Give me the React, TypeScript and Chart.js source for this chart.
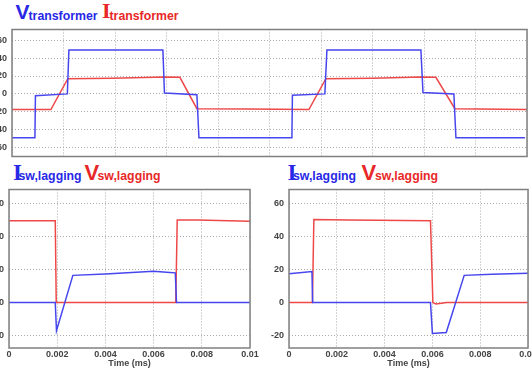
import React, { useEffect, useRef } from "react";
import { Chart, registerables } from "chart.js";

Chart.register(...registerables);

// ---------- data (time in ms) ----------
// Top chart: transformer voltage (blue) and current (red)
const topVTime = [0, 0.00089, 0.00091, 0.00215, 0.00221, 0.00586, 0.00592, 0.00718, 0.00726, 0.01087, 0.01089, 0.01215, 0.01223, 0.01588, 0.01596, 0.01716, 0.01724, 0.01992];
const topVValue = [-49, -49, -2, 0, 49, 49, 1, -1, -49, -49, -1.5, 0, 49, 49, 1.5, 0, -49, -49];
const topITime = [0, 0.00151, 0.00217, 0.0039, 0.00594, 0.00652, 0.00718, 0.0092, 0.01153, 0.01219, 0.014, 0.01588, 0.01646, 0.0172, 0.02];
const topIValue = [-17.5, -17.5, 17, 17.5, 19, 18.5, -16.5, -17, -17.5, 17, 17.5, 19, 18.5, -16.5, -17.5];
const topYTicks = [-60, -40, -20, 0, 20, 40, 60];
const topXTicks = [0, 0.002, 0.004, 0.006, 0.008, 0.01, 0.012, 0.014, 0.016, 0.018, 0.02];

// Bottom-left chart: switch current (blue) and switch voltage (red)
const leftITime = [0, 0.00192, 0.00197, 0.00265, 0.004, 0.006, 0.00667, 0.0069, 0.00695, 0.01];
const leftIValue = [0, 0, -17, 16.5, 17.3, 19, 18.3, 18, 0, 0];
const leftVTime = [0, 0.00192, 0.00196, 0.00692, 0.00698, 0.0078, 0.01];
const leftVValue = [49.5, 49.5, 0, 0, 50, 50, 49.3];

// Bottom-right chart: switch current (blue) and switch voltage (red)
const rightITime = [0, 0.00096, 0.00099, 0.00592, 0.006, 0.00658, 0.00733, 0.0085, 0.01];
const rightIValue = [17.5, 18.8, 0, 0, -18.7, -18.1, 16.5, 17.2, 17.8];
const rightVTime = [0, 0.00098, 0.00104, 0.0025, 0.00592, 0.00602, 0.00615, 0.0066, 0.01];
const rightVValue = [0, 0, 50.3, 50, 49.6, 0, -0.8, 0, 0];

const bottomYTicks = [-20, 0, 20, 40, 60];
const bottomXTicks = [0, 0.002, 0.004, 0.006, 0.008, 0.01];
const bottomXLabels = ["0", "0.002", "0.004", "0.006", "0.008", "0.01"];
const xTitle = "Time (ms)";

// ---------- styles ----------
const LINE_BLUE = "#4646ee";
const LINE_RED = "#ee4848";
const TEXT_BLUE = "#2828e6";
const TEXT_RED = "#e82828";
const GRID = "#aaaaaa";
const TICK_COLOR = "#444";
const SANS = "'Liberation Sans', Arial, sans-serif";
const SERIF = "'Liberation Serif', serif";

const pts = (xs: number[], ys: number[]) => xs.map((x, i) => ({ x, y: ys[i] }));

const boxPlugin = {
  id: "scopeBox",
  afterDraw(chart: any) {
    const { ctx, chartArea: a } = chart;
    ctx.save();
    ctx.strokeStyle = "#808080";
    ctx.lineWidth = 1.5;
    ctx.strokeRect(a.left, a.top, a.right - a.left, a.bottom - a.top);
    ctx.restore();
  },
};

type Series = { x: number[]; y: number[]; color: string };

type ScopeProps = {
  left: number;
  top: number;
  width: number;
  height: number;
  yMin: number;
  yMax: number;
  yTicks: number[];
  xMax: number;
  xTicks: number[];
  xLabels: string[] | null;
  yAxisWidth: number;
  padding: { left: number; right: number; top: number; bottom: number };
  series: Series[];
};

function ScopeChart(p: ScopeProps) {
  const ref = useRef<HTMLCanvasElement>(null);
  useEffect(() => {
    const font = { family: SANS, size: 9, weight: "bold" as const, lineHeight: 1 };
    const chart = new Chart(ref.current!, {
      type: "line",
      data: {
        datasets: p.series.map((s) => ({
          data: pts(s.x, s.y),
          borderColor: s.color,
          borderWidth: 1.5,
          pointRadius: 0,
          tension: 0,
          fill: false,
        })),
      },
      options: {
        animation: false,
        responsive: false,
        events: [],
        plugins: { legend: { display: false }, tooltip: { enabled: false } },
        layout: { padding: p.padding },
        scales: {
          x: {
            type: "linear",
            bounds: "data",
            min: 0,
            max: p.xMax,
            afterBuildTicks: (s: any) => {
              s.ticks = p.xTicks.map((v) => ({ value: v }));
            },
            ticks: {
              display: !!p.xLabels,
              padding: 2,
              font,
              color: TICK_COLOR,
              maxRotation: 0,
              autoSkip: false,
              callback: (v: any) => {
                const i = p.xTicks.findIndex((t) => Math.abs(t - Number(v)) < 1e-9);
                return p.xLabels && i >= 0 ? p.xLabels[i] : "";
              },
            },
            grid: { color: GRID, lineWidth: 1, drawTicks: false },
            border: { display: false, dash: [1, 2] },
            title: {
              display: !!p.xLabels,
              text: xTitle,
              font,
              color: TICK_COLOR,
              padding: { top: -2, bottom: 0 },
            },
          },
          y: {
            type: "linear",
            bounds: "data",
            min: p.yMin,
            max: p.yMax,
            afterBuildTicks: (s: any) => {
              s.ticks = p.yTicks.map((v) => ({ value: v }));
            },
            afterFit: (s: any) => {
              s.width = p.yAxisWidth;
            },
            ticks: {
              padding: 5,
              font,
              color: TICK_COLOR,
              callback: (v: any) => String(v),
            },
            grid: { color: GRID, lineWidth: 1, drawTicks: false },
            border: { display: false, dash: [1, 2] },
          },
        },
      },
      plugins: [boxPlugin],
    } as any);
    return () => chart.destroy();
  }, []);
  return (
    <canvas
      ref={ref}
      width={p.width}
      height={p.height}
      style={{ position: "absolute", left: p.left, top: p.top, width: p.width, height: p.height }}
    />
  );
}

function Piece({ text, left, top, size, color, serif }: { text: string; left: number; top: number; size: number; color: string; serif?: boolean }) {
  return (
    <span
      style={{
        position: "absolute",
        left,
        top,
        fontFamily: serif ? SERIF : SANS,
        fontWeight: "bold",
        fontSize: size,
        lineHeight: 1,
        color,
        whiteSpace: "nowrap",
      }}
    >
      {text}
    </span>
  );
}

export default function App() {
  return (
    <div
      style={{
        position: "fixed",
        left: 0,
        top: 0,
        width: 532,
        height: 373,
        overflow: "hidden",
        background: "#fff",
      }}
    >
      {/* top title */}
      <Piece text="V" left={15.5} top={1} size={21} color={TEXT_BLUE} />
      <Piece text="transformer" left={28.5} top={10} size={12.3} color={TEXT_BLUE} />
      <Piece text="I" left={102} top={0} size={22} color={TEXT_RED} serif />
      <Piece text="transformer" left={109.5} top={10} size={12.3} color={TEXT_RED} />

      {/* bottom-left title */}
      <Piece text="I" left={13} top={161} size={23} color={TEXT_BLUE} serif />
      <Piece text="sw,lagging" left={18.5} top={170} size={12.3} color={TEXT_BLUE} />
      <Piece text="V" left={84.5} top={162} size={22} color={TEXT_RED} />
      <Piece text="sw,lagging" left={97.5} top={170} size={12.3} color={TEXT_RED} />

      {/* bottom-right title */}
      <Piece text="I" left={287.5} top={161} size={23} color={TEXT_BLUE} serif />
      <Piece text="sw,lagging" left={293} top={170} size={12.3} color={TEXT_BLUE} />
      <Piece text="V" left={361.5} top={162} size={22} color={TEXT_RED} />
      <Piece text="sw,lagging" left={375} top={170} size={12.3} color={TEXT_RED} />

      <ScopeChart
        left={-20}
        top={20}
        width={552}
        height={146}
        yMin={-70}
        yMax={72}
        yTicks={topYTicks}
        xMax={0.02}
        xTicks={topXTicks}
        xLabels={null}
        yAxisWidth={32}
        padding={{ left: 0, right: 5, top: 7, bottom: 5 }}
        series={[
          { x: topVTime, y: topVValue, color: LINE_BLUE },
          { x: topITime, y: topIValue, color: LINE_RED },
        ]}
      />
      <ScopeChart
        left={-21}
        top={180}
        width={283}
        height={190}
        yMin={-27.5}
        yMax={68.5}
        yTicks={bottomYTicks}
        xMax={0.01}
        xTicks={bottomXTicks}
        xLabels={bottomXLabels}
        yAxisWidth={30}
        padding={{ left: 0, right: 12, top: 8, bottom: 2 }}
        series={[
          { x: leftITime, y: leftIValue, color: LINE_BLUE },
          { x: leftVTime, y: leftVValue, color: LINE_RED },
        ]}
      />
      <ScopeChart
        left={259}
        top={180}
        width={281}
        height={190}
        yMin={-27.5}
        yMax={68.5}
        yTicks={bottomYTicks}
        xMax={0.01}
        xTicks={bottomXTicks}
        xLabels={bottomXLabels}
        yAxisWidth={30}
        padding={{ left: 0, right: 12, top: 8, bottom: 2 }}
        series={[
          { x: rightITime, y: rightIValue, color: LINE_BLUE },
          { x: rightVTime, y: rightVValue, color: LINE_RED },
        ]}
      />
    </div>
  );
}
